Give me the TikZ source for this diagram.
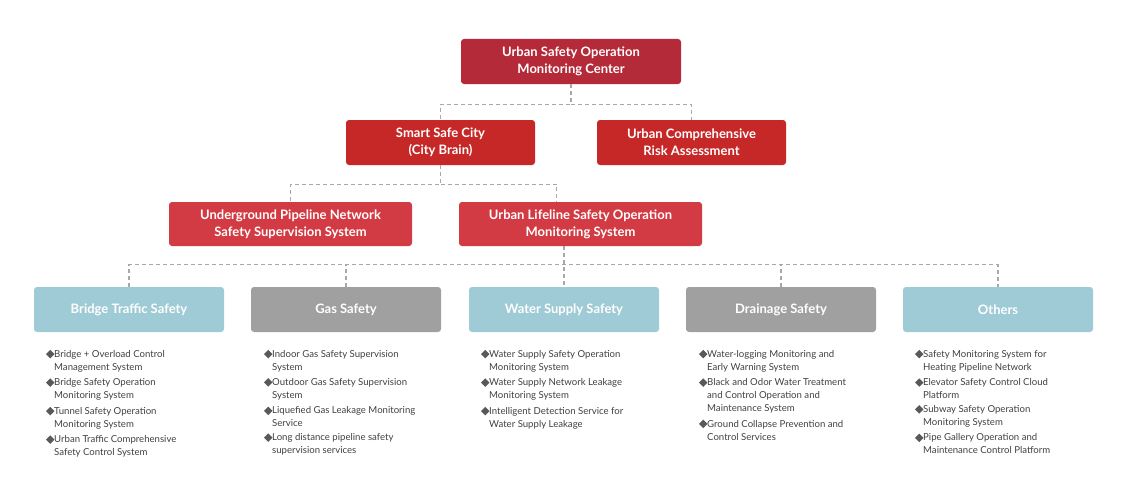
\documentclass[tikz,border=0pt]{standalone}
\usepackage{fontspec}
\setmainfont{Lato}
\usetikzlibrary{positioning}
\definecolor{redA}{HTML}{B52A38}
\definecolor{redB}{HTML}{C62828}
\definecolor{redC}{HTML}{D33B44}
\definecolor{blueBox}{HTML}{9FCBD6}
\definecolor{grayBox}{HTML}{A0A0A0}
\definecolor{lineGray}{HTML}{A8A8A8}
\tikzset{
    head-box/.style = {rectangle, rounded corners=3pt, text=white, align=center, minimum height=45pt, inner sep=2pt, font=\fontsize{13}{17}\selectfont\bfseries},
    cat-box/.style = {head-box, minimum width=190pt, minimum height=45pt},
    item/.style = {anchor=north west, align=left, inner sep=0pt, text=black!75, font=\fontsize{9.6}{13}\selectfont},
    dot/.style = {fill=black!65, minimum size=6pt, inner sep=0pt, rotate=45, rectangle},
    link/.style = {lineGray, dashed, dash pattern=on 4pt off 3pt, line width=1.3pt},
}
\begin{document}
\begin{tikzpicture}[x=1pt,y=-1pt]
\useasboundingbox (0,0) rectangle (1131,487);
\node [head-box, fill=redA, minimum width=220pt] (center) at (571,61.5) {Urban Safety Operation\\Monitoring Center};
\node [head-box, fill=redB, minimum width=189pt] (brain) at (440.5,142.5) {Smart Safe City\\(City Brain)};
\node [head-box, fill=redB, minimum width=189pt] (risk) at (691.5,142.5) {Urban Comprehensive\\Risk Assessment};
\node [head-box, fill=redC, minimum width=243pt, minimum height=44pt] (pipe) at (290.5,224) {Underground Pipeline Network\\Safety Supervision System};
\node [head-box, fill=redC, minimum width=243pt, minimum height=44pt] (life) at (580.5,224) {Urban Lifeline Safety Operation\\Monitoring System};

\node [cat-box, fill=blueBox] (bridge) at (129,309.5) {Bridge Traffic Safety};
\node [cat-box, fill=grayBox] (gas) at (346,309.5) {Gas Safety};
\node [cat-box, fill=blueBox] (water) at (564,309.5) {Water Supply Safety};
\node [cat-box, fill=grayBox] (drain) at (781,309.5) {Drainage Safety};
\node [cat-box, fill=blueBox] (others) at (998,309.5) {Others};

% connectors
\draw [link] (center.south) -- ++(0,20) -| (brain.north);
\draw [link] (center.south) ++(0,20) -| (risk.north);
\draw [link] (brain.south) -- ++(0,19) -| (pipe.north);
\draw [link] (brain.south) ++(0,19) -| ([xshift=-24pt]life.north);
\draw [link] (bridge.north) -- ++(0,-22) -| (others.north);
\draw [link] (gas.north) -- ++(0,-22);
\draw [link] (drain.north) -- ++(0,-22);
\draw [link] (life.south -| water.north) -- (water.north);

% bullet lists
\foreach \col/\x/\items in {
  b/54/{Bridge + Overload Control\\Management System, Bridge Safety Operation\\Monitoring System, Tunnel Safety Operation\\Monitoring System, Urban Traffic Comprehensive\\Safety Control System},
  g/272/{Indoor Gas Safety Supervision\\System, Outdoor Gas Safety Supervision\\System, Liquefied Gas Leakage Monitoring\\Service, Long distance pipeline safety\\supervision services},
  w/489/{Water Supply Safety Operation\\Monitoring System, Water Supply Network Leakage\\Monitoring System, Intelligent Detection Service for\\Water Supply Leakage},
  d/707/{Water-logging Monitoring and\\Early Warning System, Black and Odor Water Treatment\\and Control Operation and\\Maintenance System, Ground Collapse Prevention and\\Control Services},
  o/923/{Safety Monitoring System for\\Heating Pipeline Network, Elevator Safety Control Cloud\\Platform, Subway Safety Operation\\Monitoring System, Pipe Gallery Operation and\\Maintenance Control Platform}} {
  \coordinate (\col-0) at (\x,343.5);
  \foreach \t [count=\i, remember=\i as \j (initially 0)] in \items {
    \node [item, below=6.3pt of \col-\j.south west, anchor=north west] (\col-\i) {\t};
    \node [dot, left=8pt of \col-\i.north west, yshift=-6pt, anchor=center] (\col-\i-dot) {};
    \coordinate (\col-\i) at (\col-\i.south west);
  }
}
\end{tikzpicture}
\end{document}
